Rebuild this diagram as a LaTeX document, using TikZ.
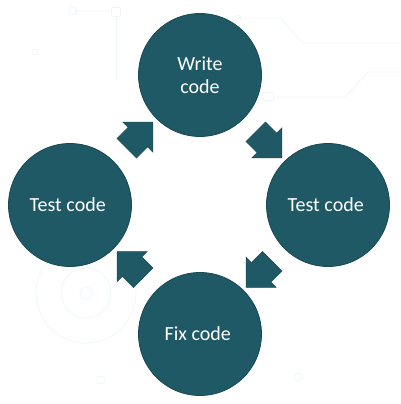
\documentclass[tikz,border=0pt]{standalone}
\usepackage{fontspec}
\setmainfont{Carlito}
\usetikzlibrary{shapes,positioning,calc}
\definecolor{stepFill}{RGB}{31,89,101}
\definecolor{stepLine}{RGB}{24,72,82}
\definecolor{bgLine}{RGB}{238,246,250}
\tikzstyle{stepNode} = [shape = circle, draw = stepLine, line width = 0.8pt, fill = stepFill, minimum size = 123pt, inner sep = 0pt, text = white, font = \fontsize{20}{23}\selectfont, align = center]
\tikzstyle{flowArrow} = [single arrow, draw = stepLine, fill = stepFill, line width = 0.5pt, minimum height = 37pt, inner xsep = 0pt, inner ysep = 13.5pt, text height = 0pt, text depth = 0pt, single arrow head extend = 7.5pt]
\tikzstyle{bgDeco} = [draw = bgLine, line width = 0.8pt]

\begin{document}
\begin{tikzpicture}[x=1pt, y=-1pt]
					\useasboundingbox (0,0) rectangle (400,404);
					% faint circuit background
					\draw[bgDeco] (73,11) circle (4) -- (111,11);
					\draw[bgDeco] (111,7) rectangle (120,16);
					\draw[bgDeco] (116,16) -- (116,80);
					\draw[bgDeco] (35,52) circle (3);
					\draw[bgDeco] (238,18) circle (3);
					\draw[bgDeco] (241,18) -- (280,18) -- (303,43) -- (400,43);
					\draw[bgDeco] (262,92) rectangle (273,100);
					\draw[bgDeco] (273,97) -- (345,97) -- (368,72) -- (400,72);
					\draw[bgDeco] (86,293) circle (50);
					\draw[bgDeco] (86,293) circle (25);
					\draw[bgDeco] (86,293) circle (6);
					\draw[bgDeco] (101,380) circle (4);
					\draw[bgDeco] (298,377) circle (4);
					% cycle steps
					\node (Write1) [stepNode] at (200,75) {
						Write\\code
					};
					\node (Test1) [stepNode] at (328,205) {
						Test code
					};
					\node (Fix1) [stepNode] at (200,334) {
						Fix code
					};
					\node (Test2) [stepNode] at (70,205) {
						Test code
					};
					% block arrows between steps
					\node (arrWT) [flowArrow, rotate = -45] at ($(Write1)!0.5!(Test1)$) {};
					\node (arrTF) [flowArrow, rotate = -135] at ($(Test1)!0.5!(Fix1)$) {};
					\node (arrFT) [flowArrow, rotate = 135] at ($(Fix1)!0.5!(Test2)$) {};
					\node (arrTW) [flowArrow, rotate = 45] at ($(Test2)!0.5!(Write1)$) {};
					\end{tikzpicture}
\end{document}
